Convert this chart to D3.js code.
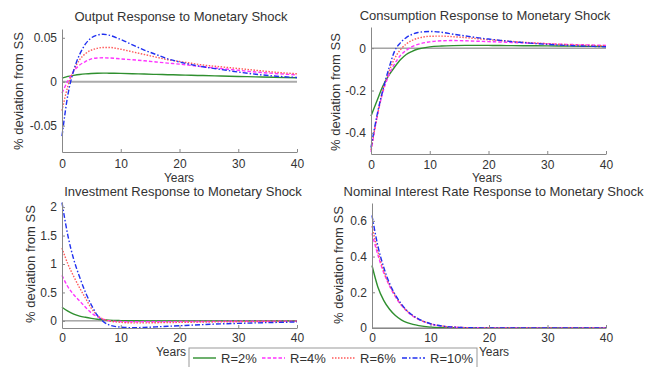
<!DOCTYPE html>
<html>
<head>
<meta charset="utf-8">
<title>Monetary Shock Responses</title>
<script src="https://cdnjs.cloudflare.com/ajax/libs/d3/7.8.5/d3.min.js"></script>
<style>
  body { margin: 0; background: #fff; }
  svg { display: block; font-family: "Liberation Sans", Arial, sans-serif; }
</style>
</head>
<body>
<div id="chart"></div>
<script>
// time axis (years after shock)
const years = [0, 1, 2, 3, 4, 5, 6, 7, 8, 10, 12, 14, 16, 18, 20, 22, 24, 27, 30, 33, 36, 40];
const seriesLabels = ["R=2%", "R=4%", "R=6%", "R=10%"];
const xTicks = [0, 10, 20, 30, 40];

// Output response
const outputR2 = [0.004, 0.006, 0.0072, 0.0082, 0.0089, 0.0094, 0.0097, 0.0098, 0.0097, 0.0095, 0.0091, 0.0087, 0.0083, 0.008, 0.0077, 0.0073, 0.007, 0.0065, 0.006, 0.0055, 0.005, 0.0045];
const outputR4 = [-0.013, 0.001, 0.012, 0.019, 0.023, 0.026, 0.027, 0.0272, 0.027, 0.026, 0.025, 0.0238, 0.0225, 0.0212, 0.02, 0.0185, 0.017, 0.015, 0.013, 0.011, 0.0095, 0.0078];
const outputR6 = [-0.033, -0.005, 0.013, 0.025, 0.032, 0.036, 0.038, 0.039, 0.039, 0.037, 0.034, 0.031, 0.028, 0.025, 0.023, 0.021, 0.019, 0.017, 0.015, 0.013, 0.011, 0.009];
const outputR10 = [-0.062, -0.015, 0.013, 0.031, 0.043, 0.05, 0.053, 0.054, 0.053, 0.048, 0.042, 0.036, 0.031, 0.026, 0.0225, 0.0195, 0.017, 0.014, 0.011, 0.0085, 0.0065, 0.0048];
const outputTicks = [-0.05, 0, 0.05];

// Consumption response
const consR2 = [-0.32, -0.25, -0.18, -0.13, -0.09, -0.055, -0.03, -0.015, -0.004, 0.006, 0.01, 0.012, 0.013, 0.013, 0.013, 0.0125, 0.012, 0.0115, 0.011, 0.01, 0.009, 0.008];
const consR4 = [-0.49, -0.33, -0.21, -0.13, -0.075, -0.035, -0.01, 0.007, 0.018, 0.03, 0.035, 0.036, 0.035, 0.033, 0.031, 0.029, 0.027, 0.024, 0.021, 0.018, 0.016, 0.013];
const consR6 = [-0.48, -0.33, -0.2, -0.115, -0.05, -0.008, 0.02, 0.037, 0.047, 0.056, 0.057, 0.054, 0.05, 0.045, 0.04, 0.036, 0.032, 0.026, 0.021, 0.017, 0.014, 0.011];
const consR10 = [-0.47, -0.32, -0.2, -0.1, -0.015, 0.025, 0.05, 0.065, 0.074, 0.079, 0.075, 0.066, 0.058, 0.05, 0.043, 0.037, 0.031, 0.024, 0.018, 0.013, 0.01, 0.007];
const consTicks = [-0.4, -0.2, 0];

// Investment response
const invR2 = [0.24, 0.17, 0.12, 0.085, 0.063, 0.045, 0.03, 0.02, 0.012, 0.005, 0.002, 0.001, 0, 0, 0, 0, 0, 0, 0, 0, 0, 0];
const invR4 = [0.8, 0.6, 0.46, 0.35, 0.24, 0.14, 0.075, 0.03, 0.005, -0.012, -0.016, -0.016, -0.015, -0.013, -0.012, -0.011, -0.01, -0.008, -0.007, -0.006, -0.005, -0.004];
const invR6 = [1.28, 1.0, 0.78, 0.58, 0.4, 0.22, 0.1, 0.03, 0.0, -0.025, -0.035, -0.035, -0.032, -0.029, -0.026, -0.023, -0.02, -0.017, -0.014, -0.012, -0.01, -0.008];
const invR10 = [2.08, 1.5, 1.08, 0.77, 0.5, 0.28, 0.1, -0.01, -0.07, -0.11, -0.12, -0.115, -0.105, -0.095, -0.085, -0.075, -0.065, -0.053, -0.043, -0.035, -0.028, -0.02];
const invTicks = [0, 0.5, 1, 1.5, 2];

// Nominal interest rate response
const rateR2 = [0.35, 0.23, 0.155, 0.105, 0.07, 0.046, 0.03, 0.02, 0.013, 0.005, 0.002, 0.001, 0, 0, 0, 0, 0, 0, 0, 0, 0, 0];
const rateR4 = [0.53, 0.41, 0.31, 0.235, 0.175, 0.128, 0.093, 0.066, 0.047, 0.023, 0.01, 0.004, 0.002, 0.001, 0, 0, 0, 0, 0, 0, 0, 0];
const rateR6 = [0.57, 0.43, 0.32, 0.24, 0.18, 0.13, 0.095, 0.068, 0.049, 0.024, 0.011, 0.005, 0.002, 0.001, 0, 0, 0, 0, 0, 0, 0, 0];
const rateR10 = [0.63, 0.46, 0.34, 0.25, 0.185, 0.135, 0.097, 0.07, 0.05, 0.024, 0.011, 0.005, 0.002, 0.001, 0, 0, 0, 0, 0, 0, 0, 0];
const rateTicks = [0, 0.2, 0.4, 0.6];

// line styles, matlab order: solid, dashed, dotted, dash-dot
const colors = ["#2f8f2f", "#ff33ff", "#ff5a5a", "#2030f0"];
const dashes = [null, "3.5,2", "1.5,1.5", "5,2,1.5,2"];

const width = 647, height = 367;
const svg = d3.select("#chart").append("svg")
  .attr("width", width)
  .attr("height", height);

const panels = [
  { title: "Output Response to Monetary Shock", series: [outputR2, outputR4, outputR6, outputR10], ticks: outputTicks,
    domain: [-0.08, 0.06], x0: 62, x1: 297, y0: 29, y1: 152, titleX: 181, titleY: 20.5,
    yLabX: 18, yLabY: 91, yearsX: 179, yearsY: 181.5, tickPad: 7, zeroW: 2, zeroC: "#aaa" },
  { title: "Consumption Response to Monetary Shock", series: [consR2, consR4, consR6, consR10], ticks: consTicks,
    domain: [-0.5, 0.1], x0: 371, x1: 606, y0: 27, y1: 154, titleX: 485, titleY: 19.5,
    yLabX: 335.5, yLabY: 92, yearsX: 487, yearsY: 181.5, tickPad: 6, zeroW: 1, zeroC: "#777" },
  { title: "Investment Response to Monetary Shock", series: [invR2, invR4, invR6, invR10], ticks: invTicks,
    domain: [-0.125, 2.09], x0: 62, x1: 297, y0: 202, y1: 328, titleX: 183, titleY: 195.5,
    yLabX: 30, yLabY: 264, yearsX: 171, yearsY: 356, tickPad: 5, zeroW: 1, zeroC: "#777" },
  { title: "Nominal Interest Rate Response to Monetary Shock", series: [rateR2, rateR4, rateR6, rateR10], ticks: rateTicks,
    domain: [0, 0.7], x0: 372, x1: 606, y0: 203, y1: 328, titleX: 493.5, titleY: 195.5,
    yLabX: 338.5, yLabY: 265, yearsX: 494, yearsY: 356, tickPad: 5, zeroW: 1, zeroC: "#777" }
];

panels.forEach(p => {
  const x = d3.scaleLinear().domain([0, 40]).range([p.x0, p.x1]);
  const y = d3.scaleLinear().domain(p.domain).range([p.y1, p.y0]);
  const g = svg.append("g");

  // zero reference line
  g.append("line")
    .attr("x1", x(0)).attr("x2", x(40))
    .attr("y1", y(0)).attr("y2", y(0))
    .attr("stroke", p.zeroC).attr("stroke-width", p.zeroW);

  const line = d3.line()
    .x((d, i) => x(years[i]))
    .y(d => y(d))
    .curve(d3.curveMonotoneX);

  p.series.forEach((s, k) => {
    g.append("path")
      .datum(s)
      .attr("d", line)
      .attr("fill", "none")
      .attr("stroke", colors[k])
      .attr("stroke-width", 1.4)
      .attr("stroke-dasharray", dashes[k]);
  });

  const xAxis = g.append("g")
    .attr("transform", `translate(0,${p.y1})`)
    .call(d3.axisBottom(x).tickValues(xTicks).tickSize(-3).tickSizeOuter(0).tickPadding(p.tickPad).tickFormat(d => String(d)));
  const yAxis = g.append("g")
    .attr("transform", `translate(${p.x0},0)`)
    .call(d3.axisLeft(y).tickValues(p.ticks).tickSize(-3).tickSizeOuter(0).tickPadding(5).tickFormat(d => String(d)));

  [xAxis, yAxis].forEach(a => {
    a.select(".domain").attr("stroke", "#888");
    a.selectAll(".tick line").attr("stroke", "#888");
    a.selectAll("text").attr("font-size", 12).attr("fill", "#333").attr("font-family", null);
  });

  g.append("text")
    .attr("x", p.titleX).attr("y", p.titleY)
    .attr("text-anchor", "middle")
    .attr("font-size", 13).attr("fill", "#333")
    .text(p.title);

  g.append("text")
    .attr("transform", `translate(${p.yLabX},${p.yLabY}) rotate(-90)`)
    .attr("text-anchor", "middle")
    .attr("dy", "0.35em")
    .attr("font-size", 13).attr("fill", "#333")
    .text("% deviation from SS");

  g.append("text")
    .attr("x", p.yearsX).attr("y", p.yearsY)
    .attr("text-anchor", "middle")
    .attr("font-size", 12).attr("fill", "#333")
    .text("Years");
});

// legend
const legendX = [193, 262, 332, 402];
const legend = svg.append("g");
legend.append("rect")
  .attr("x", 189).attr("y", 348).attr("width", 288).attr("height", 24)
  .attr("fill", "#fff").attr("stroke", "#999");
seriesLabels.forEach((lab, k) => {
  legend.append("line")
    .attr("x1", legendX[k]).attr("x2", legendX[k] + 23)
    .attr("y1", 358).attr("y2", 358)
    .attr("stroke", colors[k]).attr("stroke-width", 1.4)
    .attr("stroke-dasharray", dashes[k]);
  legend.append("text")
    .attr("x", legendX[k] + 28).attr("y", 362.5)
    .attr("font-size", 13).attr("fill", "#333")
    .text(lab);
});
</script>
</body>
</html>
